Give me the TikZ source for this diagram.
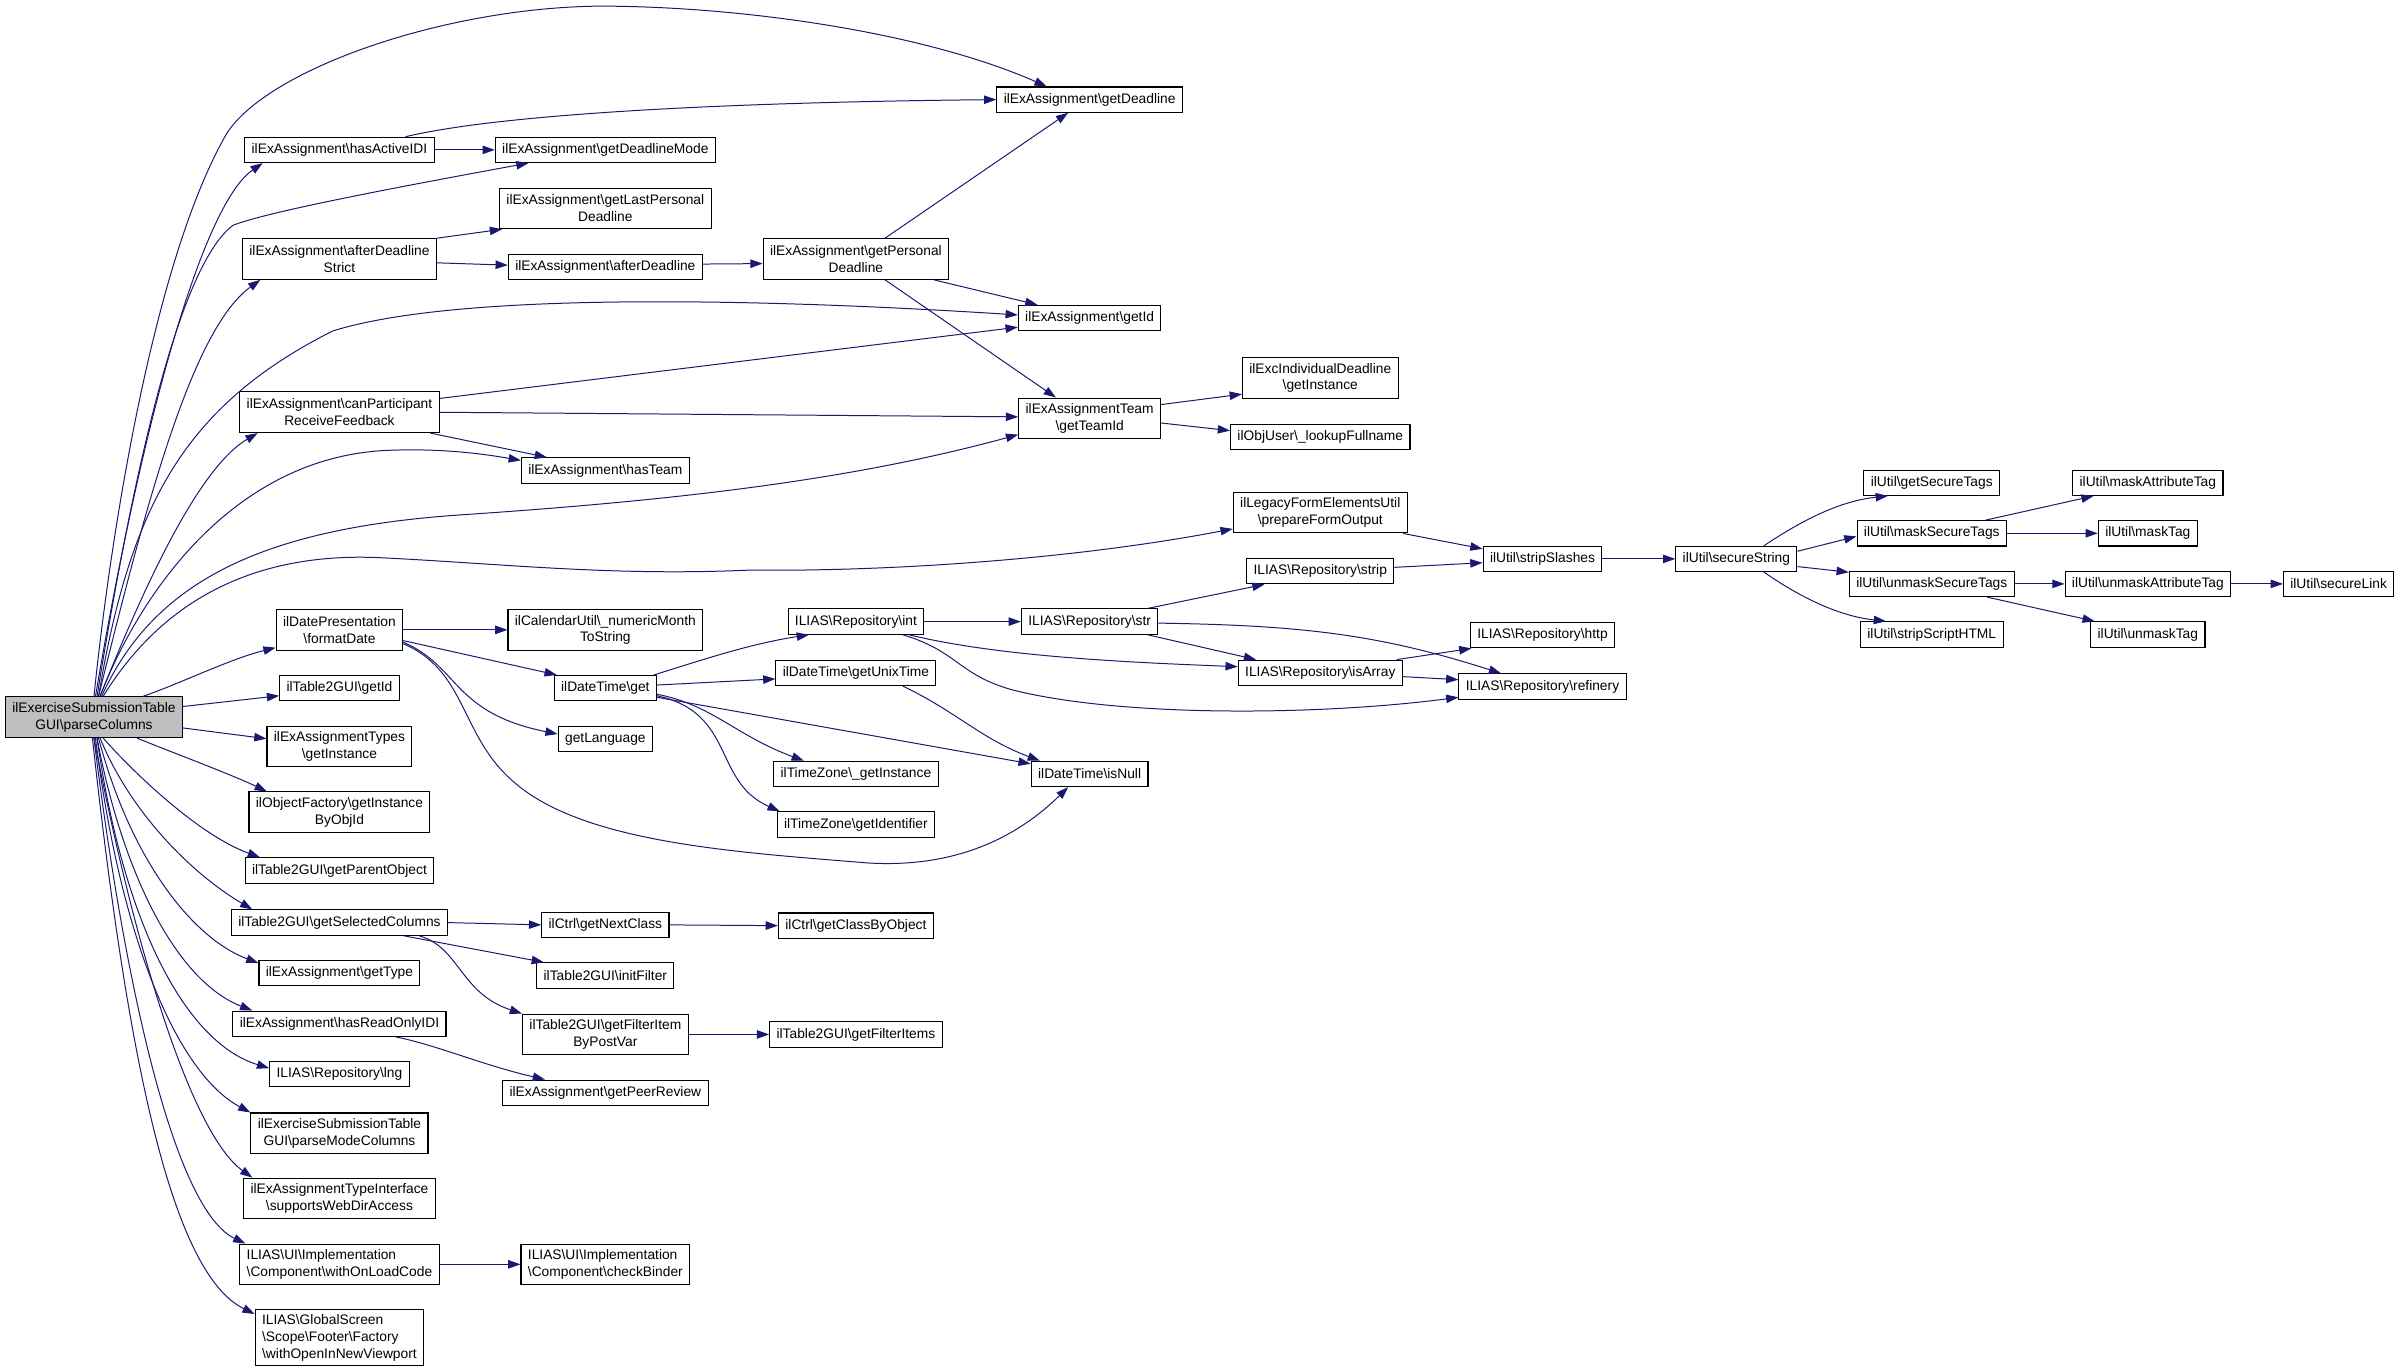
\documentclass[tikz,border=0pt]{standalone}
\usepackage{fontspec}
\setmainfont{Liberation Sans}
\usetikzlibrary{arrows.meta}
\definecolor{edgeblue}{HTML}{191970}
\definecolor{mainfill}{HTML}{BFBFBF}
\newcommand{\bsl}{\textbackslash}
\tikzset{
  fn/.style={rectangle, draw=black, fill=white, line width=0.7pt, inner xsep=4.5pt, inner ysep=2pt,
    minimum height=16.5pt, align=center, font=\fontsize{9}{11}\selectfont},
  fn2/.style={fn, minimum height=26.5pt},
  fn3/.style={fn, minimum height=36.5pt},
  call/.style={draw=edgeblue, line width=0.65pt, -{Triangle[length=8pt,width=5.5pt]}},
}
\begin{document}
\begin{tikzpicture}[x=1pt,y=-1pt]
\useasboundingbox (0,0) rectangle (1568,894);
% the function itself
\node (main) [fn2, fill=mainfill] at (61.3,468) {ilExerciseSubmissionTable\\GUI\bsl parseColumns};
% direct calls
\node (hasActiveIDI) [fn] at (221.5,97.8) {ilExAssignment\bsl hasActiveIDI};
\node (afterStrict) [fn2] at (221.5,169) {ilExAssignment\bsl afterDeadline\\Strict};
\node (canPart) [fn2] at (221.5,269) {ilExAssignment\bsl canParticipant\\ReceiveFeedback};
\node (formatDate) [fn2] at (221.5,411) {ilDatePresentation\\\bsl formatDate};
\node (t2getId) [fn] at (221.5,449) {ilTable2GUI\bsl getId};
\node (assignTypes) [fn2] at (221.5,487) {ilExAssignmentTypes\\\bsl getInstance};
\node (objFactory) [fn2] at (221.5,530) {ilObjectFactory\bsl getInstance\\ByObjId};
\node (parentObject) [fn] at (221.5,568) {ilTable2GUI\bsl getParentObject};
\node (selColumns) [fn] at (221.5,602) {ilTable2GUI\bsl getSelectedColumns};
\node (getType) [fn] at (221.5,635) {ilExAssignment\bsl getType};
\node (readOnly) [fn] at (221.5,668) {ilExAssignment\bsl hasReadOnlyIDI};
\node (lng) [fn] at (221.5,701) {ILIAS\bsl Repository\bsl lng};
\node (modeColumns) [fn2] at (221.5,739.5) {ilExerciseSubmissionTable\\GUI\bsl parseModeColumns};
\node (webDir) [fn2] at (221.5,782) {ilExAssignmentTypeInterface\\\bsl supportsWebDirAccess};
\node (onLoadCode) [fn2, align=left] at (221.5,825) {ILIAS\bsl UI\bsl Implementation\\\bsl Component\bsl withOnLoadCode};
\node (newViewport) [fn3, align=left] at (221.5,873) {ILIAS\bsl GlobalScreen\\\bsl Scope\bsl Footer\bsl Factory\\\bsl withOpenInNewViewport};
% second level
\node (deadlineMode) [fn] at (395,97.8) {ilExAssignment\bsl getDeadlineMode};
\node (lastPersonal) [fn2] at (395,136) {ilExAssignment\bsl getLastPersonal\\Deadline};
\node (afterDeadline) [fn] at (395,174.3) {ilExAssignment\bsl afterDeadline};
\node (hasTeam) [fn] at (395,307) {ilExAssignment\bsl hasTeam};
\node (numericMonth) [fn2] at (395,411) {ilCalendarUtil\bsl\_numericMonth\\ToString};
\node (dtGet) [fn] at (395,449) {ilDateTime\bsl get};
\node (getLanguage) [fn] at (395,482) {getLanguage};
\node (nextClass) [fn] at (395,603.5) {ilCtrl\bsl getNextClass};
\node (initFilter) [fn] at (395,636.5) {ilTable2GUI\bsl initFilter};
\node (filterItem) [fn2] at (395,675) {ilTable2GUI\bsl getFilterItem\\ByPostVar};
\node (peerReview) [fn] at (395,713) {ilExAssignment\bsl getPeerReview};
\node (checkBinder) [fn2, align=left] at (395,825) {ILIAS\bsl UI\bsl Implementation\\\bsl Component\bsl checkBinder};
% third level
\node (personalDeadline) [fn2] at (558.5,169) {ilExAssignment\bsl getPersonal\\Deadline};
\node (repoInt) [fn] at (558.5,405.6) {ILIAS\bsl Repository\bsl int};
\node (unixTime) [fn] at (558.5,439) {ilDateTime\bsl getUnixTime};
\node (tzInstance) [fn] at (558.5,505) {ilTimeZone\bsl\_getInstance};
\node (tzIdentifier) [fn] at (558.5,538) {ilTimeZone\bsl getIdentifier};
\node (classByObject) [fn] at (558.5,604) {ilCtrl\bsl getClassByObject};
\node (filterItems) [fn] at (558.5,675) {ilTable2GUI\bsl getFilterItems};
% fourth level
\node (getDeadline) [fn] at (711,65) {ilExAssignment\bsl getDeadline};
\node (getId) [fn] at (711,207.5) {ilExAssignment\bsl getId};
\node (teamId) [fn2] at (711,273) {ilExAssignmentTeam\\\bsl getTeamId};
\node (repoStr) [fn] at (711,405.6) {ILIAS\bsl Repository\bsl str};
\node (isNull) [fn] at (711,505) {ilDateTime\bsl isNull};
% fifth level
\node (indivDeadline) [fn2] at (861.5,246.6) {ilExcIndividualDeadline\\\bsl getInstance};
\node (lookupFullname) [fn] at (861.5,285) {ilObjUser\bsl\_lookupFullname};
\node (prepareForm) [fn2] at (861.5,334.5) {ilLegacyFormElementsUtil\\\bsl prepareFormOutput};
\node (repoStrip) [fn] at (861.5,372.7) {ILIAS\bsl Repository\bsl strip};
\node (isArray) [fn] at (861.5,439) {ILIAS\bsl Repository\bsl isArray};
% sixth level and beyond
\node (stripSlashes) [fn] at (1006.5,364.7) {ilUtil\bsl stripSlashes};
\node (repoHttp) [fn] at (1006.5,414.5) {ILIAS\bsl Repository\bsl http};
\node (refinery) [fn] at (1006.5,448) {ILIAS\bsl Repository\bsl refinery};
\node (secureString) [fn] at (1133,364.7) {ilUtil\bsl secureString};
\node (getSecureTags) [fn] at (1260.5,315) {ilUtil\bsl getSecureTags};
\node (maskSecure) [fn] at (1260.5,348) {ilUtil\bsl maskSecureTags};
\node (unmaskSecure) [fn] at (1260.5,381) {ilUtil\bsl unmaskSecureTags};
\node (stripScript) [fn] at (1260.5,414) {ilUtil\bsl stripScriptHTML};
\node (maskAttribute) [fn] at (1401.5,315) {ilUtil\bsl maskAttributeTag};
\node (maskTag) [fn] at (1401.5,348) {ilUtil\bsl maskTag};
\node (unmaskAttribute) [fn] at (1401.5,381) {ilUtil\bsl unmaskAttributeTag};
\node (unmaskTag) [fn] at (1401.5,414) {ilUtil\bsl unmaskTag};
\node (secureLink) [fn] at (1526,381) {ilUtil\bsl secureLink};

% calls from parseColumns
\draw[call] (main.north) .. controls (72,350) and (100,170) .. (148,87) .. controls (175,45) and (290,5) .. (391,4) .. controls (480,4) and (600,20) .. ([xshift=-28pt]getDeadline.north);
\draw[call] ([xshift=1pt]main.north) .. controls (90,290) and (130,135) .. ([xshift=12pt]hasActiveIDI.south west);
\draw[call] ([xshift=2pt]main.north) .. controls (85,320) and (115,175) .. (152,147) .. controls (175,138) and (260,122) .. ([xshift=22pt]deadlineMode.south west);
\draw[call] ([xshift=3pt]main.north) .. controls (95,330) and (125,215) .. ([xshift=12pt]afterStrict.south west);
\draw[call] ([xshift=3pt]main.north) .. controls (85,330) and (120,265) .. (217,216) .. controls (300,190) and (500,195) .. ([yshift=2pt]getId.west);
\draw[call] ([xshift=4pt]main.north) .. controls (95,380) and (130,305) .. ([xshift=12pt]canPart.south west);
\draw[call] ([xshift=4pt]main.north) .. controls (90,390) and (150,300) .. (250,294) .. controls (290,292) and (320,297) .. ([yshift=-2pt]hasTeam.north west);
\draw[call] ([xshift=5pt]main.north) .. controls (100,380) and (170,345) .. (300,336) .. controls (450,326) and (560,312) .. ([yshift=3pt]teamId.south west);
\draw[call] ([xshift=6pt]main.north) .. controls (110,385) and (175,360) .. (250,364) .. controls (330,368) and (400,376) .. (489,372) .. controls (580,373) and (700,365) .. ([yshift=3pt]prepareForm.south west);
\draw[call] ([xshift=32pt]main.north) .. controls (120,445) and (150,430) .. ([yshift=2pt]formatDate.south west);
\draw[call] ([yshift=7pt]main.east) -- ([yshift=-5pt]t2getId.west);
\draw[call] ([yshift=-7pt]main.east) -- ([yshift=5pt]assignTypes.west);
\draw[call] ([xshift=28pt]main.south) .. controls (115,492) and (150,505) .. ([xshift=12pt]objFactory.north west);
\draw[call] ([xshift=6pt]main.south) .. controls (88,505) and (130,545) .. ([xshift=10pt]parentObject.north west);
\draw[call] ([xshift=4pt]main.south) .. controls (85,530) and (125,570) .. ([xshift=14pt]selColumns.north west);
\draw[call] ([xshift=3pt]main.south) .. controls (85,560) and (125,612) .. ([yshift=-2pt]getType.north west);
\draw[call] ([xshift=2pt]main.south) .. controls (80,570) and (115,640) .. ([xshift=13pt]readOnly.north west);
\draw[call] ([xshift=2pt]main.south) .. controls (80,600) and (120,680) .. ([yshift=4pt]lng.west);
\draw[call] ([xshift=1pt]main.south) .. controls (78,610) and (115,700) .. (modeColumns.north west);
\draw[call] (main.south) .. controls (88,620) and (125,740) .. ([xshift=6pt]webDir.north west);
\draw[call] (main.south) .. controls (82,650) and (115,790) .. ([xshift=4pt]onLoadCode.north west);
\draw[call] ([xshift=-1pt]main.south) .. controls (82,680) and (110,830) .. ([yshift=-3pt]newViewport.north west);

% deadline and team calls
\draw[call] (hasActiveIDI.east) -- (deadlineMode.west);
\draw[call] ([xshift=-19pt]hasActiveIDI.north east) .. controls (320,76) and (450,67) .. (getDeadline.west);
\draw[call] (afterStrict.north east) -- ([xshift=2pt]lastPersonal.south west);
\draw[call] ([yshift=-2.5pt]afterStrict.east) -- ([yshift=1.3pt]afterDeadline.west);
\draw[call] ([yshift=2pt]afterDeadline.east) -- ([yshift=-3pt]personalDeadline.west);
\draw[call] ([xshift=19pt]personalDeadline.north) -- ([xshift=-14pt]getDeadline.south);
\draw[call] ([xshift=-10pt]personalDeadline.south east) -- ([xshift=-34pt]getId.north);
\draw[call] ([xshift=19pt]personalDeadline.south) -- ([xshift=-22pt]teamId.north);
\draw[call] ([yshift=9pt]canPart.east) -- ([yshift=-6pt]getId.west);
\draw[call] (canPart.east) -- ([yshift=1pt]teamId.west);
\draw[call] ([xshift=-6pt]canPart.south east) -- ([xshift=17pt]hasTeam.north west);
\draw[call] ([yshift=9pt]teamId.east) -- ([yshift=3pt]indivDeadline.south west);
\draw[call] ([yshift=-3pt]teamId.east) -- ([yshift=4pt]lookupFullname.west);

% string helpers
\draw[call] ([xshift=-3pt]prepareForm.south east) -- ([yshift=-2pt]stripSlashes.north west);
\draw[call] ([yshift=2.5pt]repoStrip.east) -- ([yshift=-2.5pt]stripSlashes.west);
\draw[call] (stripSlashes.east) -- (secureString.west);
\draw[call] ([xshift=18pt]secureString.north) .. controls (1175,340) and (1200,327) .. ([xshift=16pt]getSecureTags.south west);
\draw[call] ([yshift=5pt]secureString.east) -- ([yshift=-2pt]maskSecure.west);
\draw[call] ([yshift=-5pt]secureString.east) -- ([yshift=-1pt]unmaskSecure.north west);
\draw[call] ([xshift=18pt]secureString.south) .. controls (1175,390) and (1200,402) .. ([xshift=17pt]stripScript.north west);
\draw[call] ([xshift=-14pt]maskSecure.north east) -- ([xshift=14pt]maskAttribute.south west);
\draw[call] (maskSecure.east) -- (maskTag.west);
\draw[call] (unmaskSecure.east) -- (unmaskAttribute.west);
\draw[call] ([xshift=-18pt]unmaskSecure.south east) -- ([xshift=3pt]unmaskTag.north west);
\draw[call] (unmaskAttribute.east) -- (secureLink.west);

% date calls
\draw[call] (formatDate.east) -- (numericMonth.west);
\draw[call] ([yshift=-7pt]formatDate.east) -- ([xshift=2pt]dtGet.north west);
\draw[call] ([yshift=-8pt]formatDate.east) .. controls (300,435) and (295,465) .. ([yshift=3pt]getLanguage.west);
\draw[call] ([yshift=-9pt]formatDate.east) .. controls (305,438) and (300,480) .. (335,510) .. controls (380,550) and (480,556) .. (565,563) .. controls (625,567) and (665,545) .. ([xshift=-14pt]isNull.south);
\draw[call] ([xshift=-2pt]dtGet.north east) .. controls (460,430) and (490,420) .. ([xshift=14pt]repoInt.south west);
\draw[call] ([yshift=2pt]dtGet.east) -- ([yshift=-4pt]unixTime.west);
\draw[call] ([yshift=-6pt]dtGet.east) -- ([yshift=-2pt]isNull.north west);
\draw[call] ([yshift=-4pt]dtGet.east) .. controls (465,460) and (480,480) .. ([xshift=20pt]tzInstance.north west);
\draw[call] ([yshift=-5pt]dtGet.east) .. controls (480,465) and (465,510) .. ([xshift=2pt]tzIdentifier.north west);
\draw[call] ([xshift=-22pt]unixTime.south east) .. controls (625,465) and (640,482) .. ([xshift=6pt]isNull.north west);

% repository calls
\draw[call] (repoInt.east) -- (repoStr.west);
\draw[call] ([xshift=-10pt]repoInt.south east) .. controls (650,428) and (730,432) .. ([yshift=4pt]isArray.west);
\draw[call] ([xshift=-14pt]repoInt.south east) .. controls (625,425) and (625,440) .. (660,450) .. controls (730,468) and (860,467) .. ([yshift=-7pt]refinery.west);
\draw[call] ([xshift=-7pt]repoStr.north east) -- ([xshift=12pt]repoStrip.south west);
\draw[call] ([xshift=-7pt]repoStr.south east) -- ([xshift=12pt]isArray.north west);
\draw[call] ([yshift=-1pt]repoStr.east) .. controls (850,408) and (900,414) .. ([xshift=-27pt]refinery.north);
\draw[call] ([xshift=-4pt]isArray.north east) -- ([xshift=1pt]repoHttp.south west);
\draw[call] ([yshift=-2.5pt]isArray.east) -- ([yshift=4.5pt]refinery.west);

% table and ui calls
\draw[call] (selColumns.east) -- (nextClass.west);
\draw[call] ([xshift=-29pt]selColumns.south east) -- ([xshift=5pt]initFilter.north west);
\draw[call] ([xshift=-19pt]selColumns.south east) .. controls (300,618) and (300,648) .. (filterItem.north west);
\draw[call] (nextClass.east) -- (classByObject.west);
\draw[call] (filterItem.east) -- (filterItems.west);
\draw[call] ([xshift=-33pt]readOnly.south east) .. controls (285,682) and (315,695) .. ([xshift=28pt]peerReview.north west);
\draw[call] (onLoadCode.east) -- (checkBinder.west);
\end{tikzpicture}
\end{document}
